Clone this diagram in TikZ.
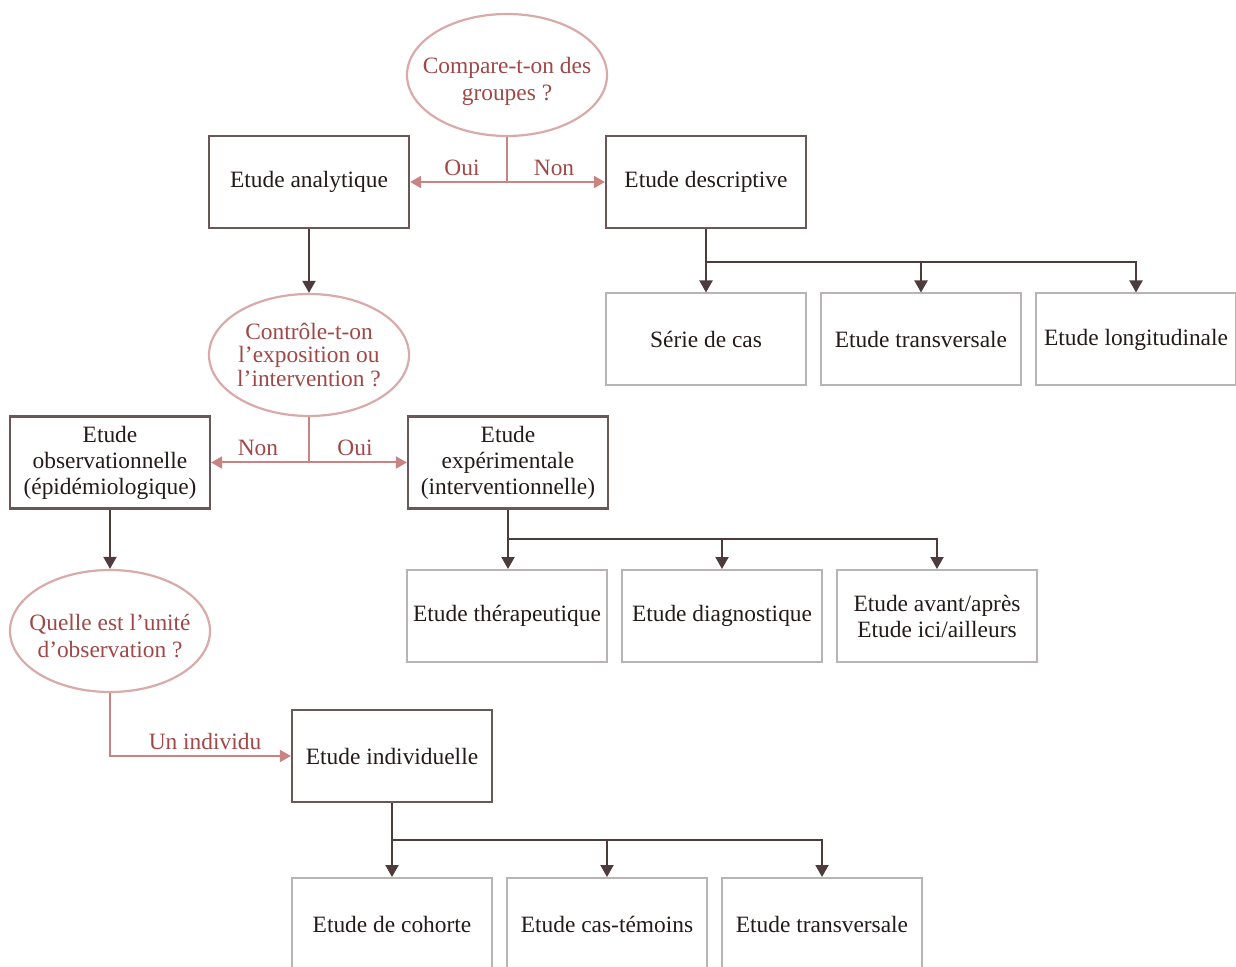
\documentclass[tikz,border=0pt]{standalone}
\usepackage{fontspec}
\setmainfont{Liberation Serif}
\usetikzlibrary{shapes.geometric,arrows.meta,calc}
\definecolor{boxdark}{HTML}{6A5757}
\definecolor{boxlight}{HTML}{B8B4B4}
\definecolor{txtdark}{HTML}{251A1A}
\definecolor{linkdark}{HTML}{4E3C3C}
\definecolor{linkpink}{HTML}{C98383}
\definecolor{ovalline}{HTML}{D9AAAA}
\definecolor{ovaltext}{HTML}{A04848}
\tikzset{
  mainbox/.style={draw=boxdark, line width=1.1pt, fill=white, minimum width=100pt,
    minimum height=46pt, inner sep=1pt, align=center, text=txtdark},
  leafbox/.style={draw=boxlight, line width=1pt, fill=white, minimum width=100pt,
    minimum height=46pt, inner sep=1pt, align=center, text=txtdark},
  question/.style={ellipse, draw=ovalline, line width=1.1pt, fill=white, minimum width=100pt,
    minimum height=61pt, inner sep=0pt},
  qtext/.style={align=center, text=ovaltext, inner sep=0pt},
  darklink/.style={draw=linkdark, line width=1pt, -{Triangle[width=6.5pt,length=6pt]}},
  pinklink/.style={draw=linkpink, line width=1pt},
  pinktip/.style={-{Triangle[width=6pt,length=5.5pt]}},
  answer/.style={text=ovaltext, inner sep=0pt}
}
\begin{document}
\begin{tikzpicture}[x=0.5pt, y=-0.5pt, font=\fontsize{11.7}{13}\selectfont]
\useasboundingbox (0,0) rectangle (1236,967);
\clip (0,0) rectangle (1236,967);

% first question: comparison of groups
\node[question] (q1) at (507,75) {};
\node[qtext, font=\fontsize{11.7}{13.5}\selectfont, yshift=-3pt] at (q1.center) {Compare-t-on des\\groupes ?};
\node[mainbox] (analytique) at (309,182) {Etude analytique};
\node[mainbox] (descriptive) at (706,182) {Etude descriptive};

\coordinate (j1) at (q1.south |- analytique.east);
\draw[pinklink] (q1.south) -- (j1);
\draw[pinklink, pinktip] (j1) -- (analytique.east);
\draw[pinklink, pinktip] (j1) -- (descriptive.west);
\node[answer] at (462,168) {Oui};
\node[answer] at (554,168) {Non};

% descriptive studies
\node[leafbox] (serie) at (706,339.5) {Série de cas};
\node[leafbox] (transv) at (921,339.5) {Etude transversale};
\node[leafbox] (longit) at (1136,339.5) {Etude longitudinale};
\coordinate (b1) at ($(descriptive.south)!0.52!(serie.north)$);
\draw[darklink] (descriptive.south) -- (serie.north);
\draw[darklink] (b1) -| (transv.north);
\draw[darklink] (b1) -| (longit.north);

% second question: control of exposure
\node[question] (q2) at (309,355) {};
\node[qtext, font=\fontsize{11.7}{11.8}\selectfont] at (q2.center) {Contrôle-t-on\\l’exposition ou\\l’intervention ?};
\draw[darklink] (analytique.south) -- (q2.north);

\node[mainbox] (obs) at (110,462.5) {Etude\\observationnelle\\(épidémiologique)};
\node[mainbox] (exp) at (508,462.5) {Etude\\expérimentale\\(interventionnelle)};
\coordinate (j2) at (q2.south |- obs.east);
\draw[pinklink] (q2.south) -- (j2);
\draw[pinklink, pinktip] (j2) -- (obs.east);
\draw[pinklink, pinktip] (j2) -- (exp.west);
\node[answer] at (258,448) {Non};
\node[answer] at (355,448) {Oui};

% experimental studies
\node[leafbox] (thera) at (507,616) {Etude thérapeutique};
\node[leafbox] (diag) at (722,616) {Etude diagnostique};
\node[leafbox] (avant) at (937,616) {Etude avant/après\\Etude ici/ailleurs};
\coordinate (b2) at ($(exp.south)!0.5!(thera.north)$);
\draw[darklink] (exp.south) -- (exp.south |- thera.north);
\draw[darklink] (b2) -| (diag.north);
\draw[darklink] (b2) -| (avant.north);

% third question: unit of observation
\node[question] (q3) at (110,631) {};
\node[qtext, font=\fontsize{11.7}{13.5}\selectfont, yshift=-2.5pt] at (q3.center) {Quelle est l’unité\\d’observation ?};
\draw[darklink] (obs.south) -- (q3.north);

\node[mainbox] (indiv) at (392,756) {Etude individuelle};
\draw[pinklink, pinktip] (q3.south) |- (indiv.west);
\node[answer] at (205,741) {Un individu};

% individual studies
\node[leafbox] (cohorte) at (392,924) {Etude de cohorte};
\node[leafbox] (temoins) at (607,924) {Etude cas-témoins};
\node[leafbox] (transv2) at (822,924) {Etude transversale};
\coordinate (b3) at ($(indiv.south)!0.5!(cohorte.north)$);
\draw[darklink] (indiv.south) -- (cohorte.north);
\draw[darklink] (b3) -| (temoins.north);
\draw[darklink] (b3) -| (transv2.north);
\end{tikzpicture}
\end{document}
